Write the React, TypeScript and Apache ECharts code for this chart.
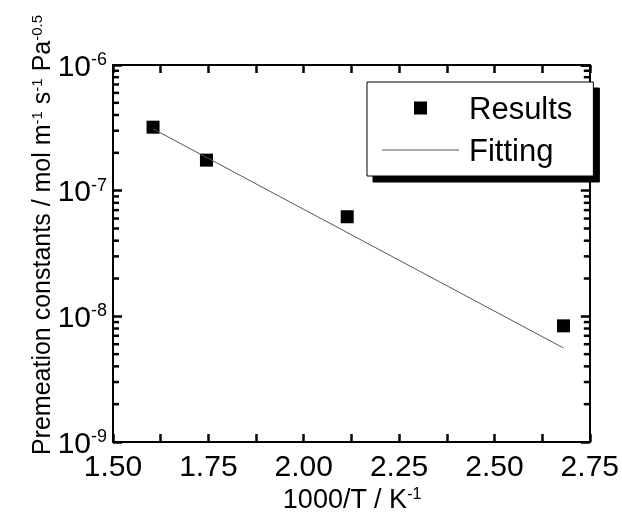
import React, { useEffect, useRef } from "react";
import * as echarts from "echarts";

const FONT = "Liberation Sans, Arial, sans-serif";

const X_MIN = 1.5;
const X_MAX = 2.75;
const X_INTERVAL = 0.25;
const Y_MIN = 1e-9;
const Y_MAX = 1e-6;

// measured points
const resultsX = [1.605, 1.745, 2.114, 2.681];
const resultsY = [3.2e-7, 1.75e-7, 6.2e-8, 8.4e-9];

// fitted line end points
const fitX = [1.605, 2.681];
const fitY = [3.1e-7, 5.6e-9];

// log minor ticks
const minorMantissas = [2, 3, 4, 5, 6, 7, 8, 9];
const decades = [1e-9, 1e-8, 1e-7];

const X_TITLE = "1000/T / K{s|-1}";
const Y_TITLE = "Premeation constants / mol m{s|-1} s{s|-1} Pa{s|-0.5}";

export default function App() {
  const ref = useRef<HTMLDivElement>(null);

  useEffect(() => {
    if (!ref.current) return;
    const chart = echarts.init(ref.current, null, { renderer: "svg" });

    const minorVals: number[] = [];
    decades.forEach((d) => minorMantissas.forEach((m) => minorVals.push(m * d)));

    const TW = 2.5;
    const mkLine = () => ({ show: true, onZero: false, lineStyle: { color: "#000", width: 2 } });
    const mkTick = (len: number) => ({ show: true, inside: true, length: len, lineStyle: { color: "#000", width: TW } });
    const mkMinor = () => ({ show: true, splitNumber: 2, length: 8, lineStyle: { color: "#000", width: TW } });

    const minorSeries = (xEdge: number, dir: number) => ({
      type: "custom",
      clip: false,
      data: minorVals.map((v) => [xEdge, v]),
      renderItem: (params: any, api: any) => {
        const p = api.coord([api.value(0), api.value(1)]);
        return {
          type: "line",
          shape: { x1: p[0], y1: p[1], x2: p[0] + dir * 6, y2: p[1] },
          style: { stroke: "#000", lineWidth: TW },
        };
      },
    });

    const option: any = {
      animation: false,
      grid: { left: 113, right: 31, top: 65, bottom: 74 },
      graphic: [
        {
          type: "text",
          x: 352,
          y: 499,
          style: {
            text: X_TITLE,
            fontSize: 27,
            fontFamily: FONT,
            fill: "#000",
            align: "center",
            verticalAlign: "middle",
            rich: {
              s: { fontSize: 16, fontFamily: FONT, fill: "#000", verticalAlign: "top", lineHeight: 16 },
            },
          },
        },
        {
          type: "text",
          x: 41,
          y: 235,
          rotation: Math.PI / 2,
          style: {
            text: Y_TITLE,
            fontSize: 25,
            fontFamily: FONT,
            fill: "#000",
            align: "center",
            verticalAlign: "middle",
            rich: {
              s: { fontSize: 15, fontFamily: FONT, fill: "#000", verticalAlign: "top", lineHeight: 15 },
            },
          },
        },
      ],
      legend: {
        orient: "vertical",
        left: 367,
        top: 82,
        data: [
          { name: "Results", icon: "path://M0,0h10v10h-10z" },
          { name: "Fitting", icon: "path://M0,0h77v1h-77z" },
        ],
        itemWidth: 77,
        itemHeight: 13,
        itemGap: 6,
        symbolKeepAspect: true,
        padding: [8, 21, 8, 15],
        backgroundColor: "#fff",
        borderColor: "#000",
        borderWidth: 1,
        shadowColor: "#000",
        shadowOffsetX: 6,
        shadowOffsetY: 6,
        shadowBlur: 0,
        selectedMode: false,
        textStyle: { fontSize: 31, color: "#000", fontFamily: FONT, lineHeight: 36, padding: [0, 0, 0, 5] },
      },
      xAxis: [
        {
          type: "value",
          position: "bottom",
          min: X_MIN,
          max: X_MAX,
          interval: X_INTERVAL,
          axisLine: mkLine(),
          axisTick: mkTick(8),
          minorTick: mkMinor(),
          splitLine: { show: false },
          axisLabel: {
            fontSize: 30,
            color: "#000",
            fontFamily: FONT,
            margin: 8,
            formatter: (v: number) => v.toFixed(2),
          },
        },
        {
          type: "value",
          position: "top",
          min: X_MIN,
          max: X_MAX,
          interval: X_INTERVAL,
          axisLine: mkLine(),
          axisTick: mkTick(8),
          minorTick: mkMinor(),
          splitLine: { show: false },
          axisLabel: { show: false },
        },
      ],
      yAxis: [
        {
          type: "log",
          position: "left",
          min: Y_MIN,
          max: Y_MAX,
          axisLine: mkLine(),
          axisTick: mkTick(9),
          splitLine: { show: false },
          axisLabel: {
            margin: 6,
            formatter: (v: number) => `{b|10}{s|${Math.round(Math.log10(v))}}`,
            rich: {
              b: { fontSize: 30, color: "#000", fontFamily: FONT, lineHeight: 30 },
              s: { fontSize: 18, color: "#000", fontFamily: FONT, verticalAlign: "top", lineHeight: 18 },
            },
          },
        },
        {
          type: "log",
          position: "right",
          min: Y_MIN,
          max: Y_MAX,
          axisLine: mkLine(),
          axisTick: mkTick(9),
          splitLine: { show: false },
          axisLabel: { show: false },
        },
      ],
      series: [
        {
          name: "Results",
          type: "scatter",
          symbol: "rect",
          symbolSize: 13,
          itemStyle: { color: "#000", opacity: 1 },
          data: resultsX.map((x, i) => [x, resultsY[i]]),
        },
        {
          name: "Fitting",
          type: "line",
          symbol: "none",
          lineStyle: { color: "#555", width: 1 },
          itemStyle: { color: "#555" },
          data: fitX.map((x, i) => [x, fitY[i]]),
        },
        minorSeries(X_MIN, 1),
        minorSeries(X_MAX, -1),
      ],
    };

    chart.setOption(option);
    return () => chart.dispose();
  }, []);

  return <div ref={ref} style={{ position: "fixed", left: 0, top: 0, width: 622, height: 516 }} />;
}
